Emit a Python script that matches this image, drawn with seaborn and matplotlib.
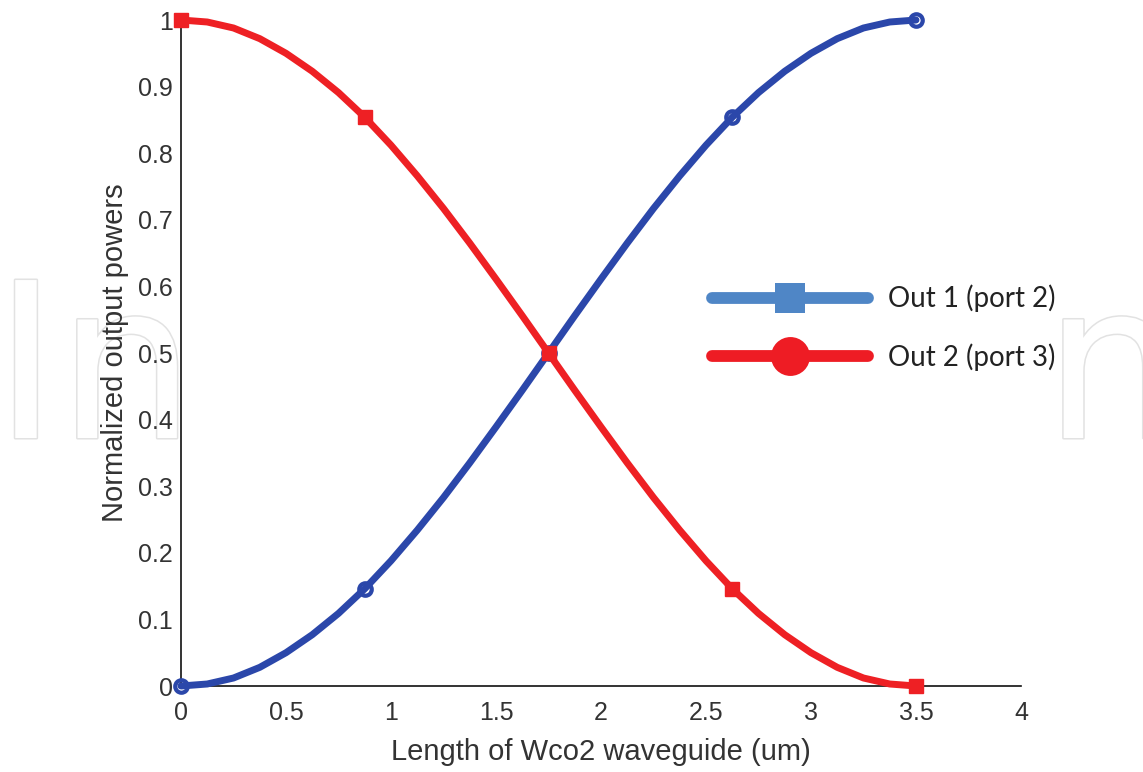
import matplotlib
matplotlib.use("Agg")
import matplotlib.pyplot as plt
import matplotlib.patheffects as pe
from matplotlib.lines import Line2D
import seaborn as sns

# values
length_um = [0.0, 0.125, 0.25, 0.375, 0.5, 0.625, 0.75, 0.875, 1.0, 1.125,
             1.25, 1.375, 1.5, 1.625, 1.75, 1.875, 2.0, 2.125, 2.25, 2.375,
             2.5, 2.625, 2.75, 2.875, 3.0, 3.125, 3.25, 3.375, 3.5]
out1 = [0.0, 0.003, 0.012, 0.028, 0.05, 0.077, 0.109, 0.146, 0.188, 0.234,
        0.283, 0.335, 0.389, 0.444, 0.5, 0.556, 0.611, 0.665, 0.717, 0.766,
        0.812, 0.854, 0.891, 0.923, 0.95, 0.972, 0.988, 0.997, 1.0]
out2 = [1.0, 0.997, 0.988, 0.972, 0.95, 0.923, 0.891, 0.854, 0.812, 0.766,
        0.717, 0.665, 0.611, 0.556, 0.5, 0.444, 0.389, 0.335, 0.283, 0.234,
        0.188, 0.146, 0.109, 0.077, 0.05, 0.028, 0.012, 0.003, 0.0]
marker_idx = [0, 7, 14, 21, 28]
labels = ["Out 1 (port 2)", "Out 2 (port 3)"]
xticks = [0, 0.5, 1, 1.5, 2, 2.5, 3, 3.5, 4]
yticks = [0, 0.1, 0.2, 0.3, 0.4, 0.5, 0.6, 0.7, 0.8, 0.9, 1]

sns.set_style("white")
plt.rcParams["font.family"] = ["Liberation Sans", "DejaVu Sans"]

fig = plt.figure(figsize=(11.43, 7.72), dpi=100, facecolor="white")
ax = fig.add_axes([181 / 1143, 1 - 686 / 772, 840 / 1143, 666 / 772])

# faint watermark behind the axes
wm = dict(fontsize=156, fontweight="normal", family="DejaVu Sans", color="white",
          va="baseline", zorder=-1,
          path_effects=[pe.withStroke(linewidth=2.2, foreground="#e2e2e2")])
fig.text(-6 / 1143, 1 - 438 / 772, "In", **wm)
fig.text(1044 / 1143, 1 - 438 / 772, "n", **wm)

sns.lineplot(x=length_um, y=out1, ax=ax, color="#2b47aa", lw=5,
             marker="o", markevery=marker_idx, markersize=9,
             markerfacecolor="none", markeredgecolor="#2b47aa",
             markeredgewidth=3, legend=False, zorder=3)
sns.lineplot(x=length_um, y=out2, ax=ax, color="#ee2024", lw=5,
             marker="s", markevery=marker_idx, markersize=10,
             markerfacecolor="#ee2024", markeredgecolor="#ee2024",
             markeredgewidth=1, legend=False, zorder=4)

ax.set_xlim(0, 4)
ax.set_ylim(0, 1)
ax.set_xticks(xticks)
ax.set_xticklabels(["0", "0.5", "1", "1.5", "2", "2.5", "3", "3.5", "4"])
ax.set_yticks(yticks)
ax.set_yticklabels(["0", "0.1", "0.2", "0.3", "0.4", "0.5", "0.6", "0.7",
                    "0.8", "0.9", "1"])
ax.tick_params(direction="in", length=6, width=1.2, colors="#111111",
               labelsize=18, labelcolor="#333333")
ax.tick_params(axis="x", pad=11)
ax.tick_params(axis="y", pad=6)
for s in ["top", "right"]:
    ax.spines[s].set_visible(False)
for s in ["left", "bottom"]:
    ax.spines[s].set_color("#111111")
    ax.spines[s].set_linewidth(1.2)
for line in ax.lines:
    line.set_clip_on(False)

ax.set_xlabel("Length of Wco2 waveguide (um)", fontsize=21, color="#333333",
              labelpad=9)
ax.set_ylabel("Normalized output powers", fontsize=21, color="#333333",
              labelpad=6)

handles = [
    Line2D([], [], color="#4f86c6", lw=8.5, solid_capstyle="round",
           marker="s", markersize=22, markeredgewidth=0),
    Line2D([], [], color="#ee1c24", lw=8.5, solid_capstyle="round",
           marker="o", markersize=28, markeredgewidth=0),
]
fig.legend(handles, labels, loc="center left",
           bbox_to_anchor=(712 / 1143, 1 - 328 / 772), frameon=False,
           prop={"family": "Lato", "size": 20}, handlelength=5.6,
           handletextpad=0.75, labelspacing=1.12, borderpad=0,
           borderaxespad=0, labelcolor="#222222")

fig.savefig("out.png", dpi=100, facecolor="white")
